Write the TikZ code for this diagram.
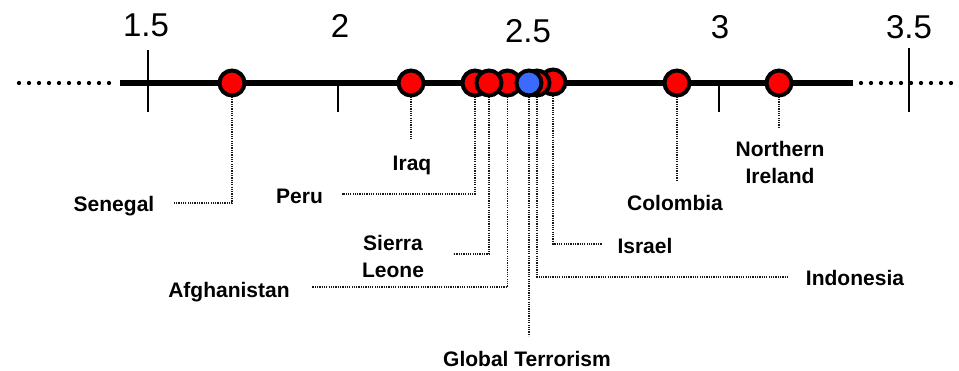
\documentclass[tikz,border=0pt]{standalone}
\usepackage{fontspec}
\setmainfont{Liberation Sans}
\definecolor{dotred}{RGB}{255,0,0}
\definecolor{dotblue}{RGB}{59,106,255}
\begin{document}
\begin{tikzpicture}[x=1pt,y=-1pt,
  axisline/.style={line width=5.5pt},
  axisdots/.style={line width=4.3pt,line cap=round,dash pattern=on 0pt off 10pt},
  tickline/.style={line width=2pt},
  ticklab/.style={font=\fontsize{33}{38}\selectfont,inner sep=0pt,anchor=base},
  marker/.style={circle,draw=black,line width=4pt,minimum size=25pt,inner sep=0pt,fill=dotred},
  leader/.style={line width=1.2pt,dash pattern=on 1.2pt off 1.1pt,black!90},
  lab/.style={font=\bfseries\fontsize{21}{27}\selectfont,inner sep=0pt,anchor=base,align=center}]
\useasboundingbox (0,0) rectangle (959,370);
% axis
\coordinate (axl) at (120,83);
\coordinate (axr) at (853,83);
\coordinate (dl) at (19,83);
\coordinate (dr) at (955,83);
\draw[axisdots] (dl) -- ([xshift=-2pt]axl);
\draw[axisdots] ([xshift=8pt]axr) -- (dr);
\draw[axisline] (axl) -- (axr);
% ticks
\coordinate (t15a) at (148,50); \coordinate (t15b) at (148,112);
\coordinate (t35a) at (909,48); \coordinate (t35b) at (909,112);
\coordinate (t2a) at (338,83);  \coordinate (t2b) at (338,112);
\coordinate (t3a) at (719,83);  \coordinate (t3b) at (719,112);
\draw[tickline] (t15a) -- (t15b);
\draw[tickline] (t35a) -- (t35b);
\draw[tickline] (t2a) -- (t2b);
\draw[tickline] (t3a) -- (t3b);
% tick labels
\node[ticklab] (l15) at (146,36) {1.5};
\node[ticklab] (l2)  at (340,37) {2};
\node[ticklab] (l25) at (528,42) {2.5};
\node[ticklab] (l3)  at (720,38) {3};
\node[ticklab] (l35) at (909,38) {3.5};
% dot centres
\coordinate (csen) at (232,83);
\coordinate (ciraq) at (411,83);
\coordinate (cperu) at (475,83);
\coordinate (csl) at (489,83);
\coordinate (cafg) at (507.5,83);
\coordinate (cglob) at (529,83);
\coordinate (cindo) at (537,83);
\coordinate (cisr) at (553,82);
\coordinate (ccol) at (677,83);
\coordinate (cni) at (779,83);
% leader end points
\coordinate (esen) at (173,203);
\coordinate (eiraq) at (411,140);
\coordinate (eperu) at (342,194);
\coordinate (esl) at (453,254);
\coordinate (eafg) at (312,287);
\coordinate (eglob) at (529,336);
\coordinate (eindo) at (788,277);
\coordinate (eisr) at (602,244);
\coordinate (ecol) at (677,181);
\coordinate (eni) at (779,127);
% leaders
\draw[leader] (csen) |- (esen);
\draw[leader] (ciraq) -- (eiraq);
\draw[leader] (cperu) |- (eperu);
\draw[leader] (csl) |- (esl);
\draw[leader] (cafg) |- (eafg);
\draw[leader] (cglob) -- (eglob);
\draw[leader] (cindo) |- (eindo);
\draw[leader] (cisr) |- (eisr);
\draw[leader] (ccol) -- (ecol);
\draw[leader] (cni) -- (eni);
% dots
\node[marker] (dsen) at (csen) {};
\node[marker] (diraq) at (ciraq) {};
\node[marker] (disr) at (cisr) {};
\node[marker] (dperu) at (cperu) {};
\node[marker] (dafg) at (cafg) {};
\node[marker] (dindo) at (cindo) {};
\node[marker] (dsl) at (csl) {};
\node[marker,fill=dotblue] (dglob) at (cglob) {};
\node[marker] (dcol) at (ccol) {};
\node[marker] (dni) at (cni) {};
% labels
\node[lab] (lsen) at (114,211) {Senegal};
\node[lab] (liraq) at (412,170) {Iraq};
\node[lab] (lperu) at (299.5,203) {Peru};
\node[lab] (lsl) at (393,277) {Sierra\\Leone};
\node[lab] (lafg) at (229,297) {Afghanistan};
\node[lab] (lglob) at (527,366) {Global Terrorism};
\node[lab] (lisr) at (645,253) {Israel};
\node[lab] (lindo) at (855,285) {Indonesia};
\node[lab] (lcol) at (675,210) {Colombia};
\node[lab] (lni) at (780,183) {Northern\\Ireland};
\end{tikzpicture}
\end{document}
